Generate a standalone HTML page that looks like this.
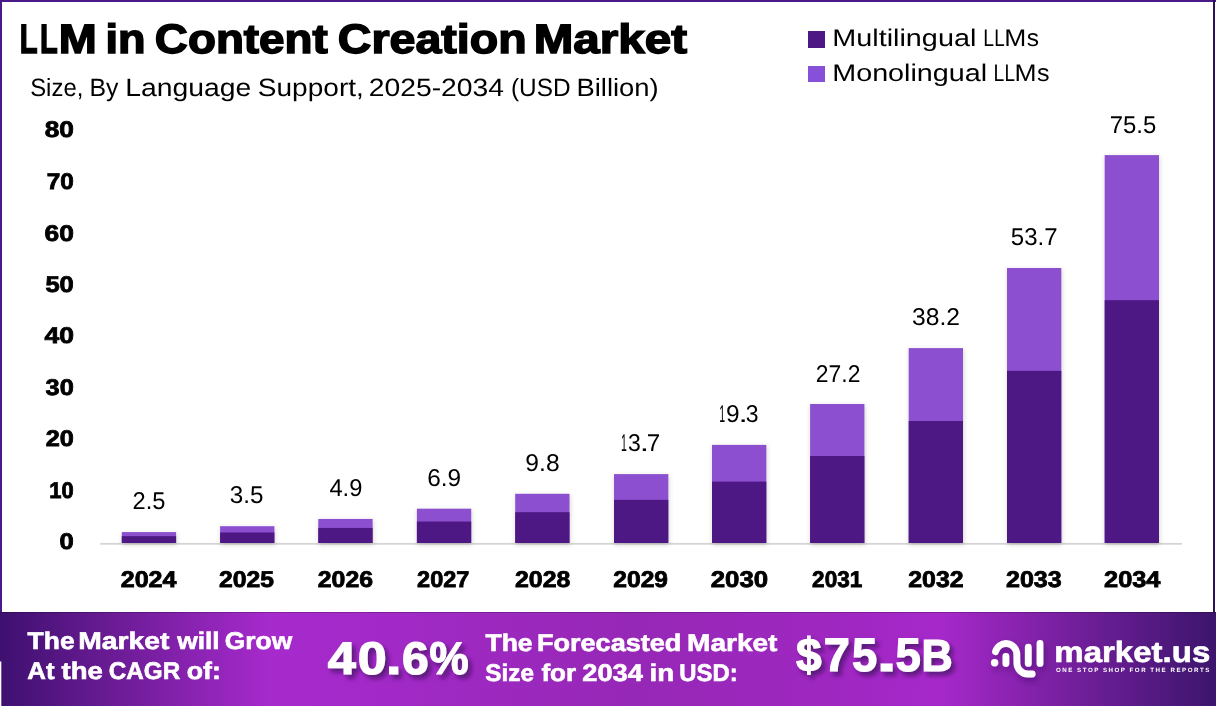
<!DOCTYPE html><html><head><meta charset="utf-8"><title>LLM in Content Creation Market</title>
<style>html,body{margin:0;padding:0;background:#fff}svg{display:block}text{font-family:'Liberation Sans', sans-serif;text-rendering:geometricPrecision}</style></head><body>
<svg width="1216" height="706" viewBox="0 0 1216 706">
<defs>
<linearGradient id="bg" x1="0" y1="0" x2="1216" y2="0" gradientUnits="userSpaceOnUse">
<stop offset="0" stop-color="#3e1070"/><stop offset="0.0625" stop-color="#5c1888"/><stop offset="0.222" stop-color="#a72acc"/><stop offset="0.30" stop-color="#a329c8"/><stop offset="0.52" stop-color="#9628b6"/><stop offset="0.70" stop-color="#a027c2"/><stop offset="0.775" stop-color="#a628c9"/><stop offset="1" stop-color="#3c156c"/>
</linearGradient>
<filter id="ts" x="-10%" y="-20%" width="125%" height="150%"><feDropShadow dx="3.5" dy="4" stdDeviation="2.2" flood-color="#3a0a5c" flood-opacity="0.7"/></filter>
<filter id="bs" x="-30%" y="-10%" width="160%" height="120%"><feDropShadow dx="0.5" dy="1.5" stdDeviation="2" flood-color="#504838" flood-opacity="0.28"/></filter>
<filter id="ls" x="-20%" y="-20%" width="150%" height="160%"><feDropShadow dx="2" dy="4" stdDeviation="3" flood-color="#3a0a5c" flood-opacity="0.45"/></filter>
</defs>
<rect x="0" y="0" width="1216" height="706" fill="#fff"/>
<rect x="0" y="0" width="1216" height="2" fill="#4a1a8a"/>
<rect x="0" y="0" width="2" height="612" fill="#4a1a8a"/>
<rect x="1213" y="0" width="2" height="612" fill="#2c1058"/>
<rect x="100.3" y="542.9" width="1081.7" height="1.8" fill="#d5d5d5"/>
<g filter="url(#bs)">
<rect x="121.80" y="532.06" width="54.3" height="10.94" fill="#8c50d0"/>
<rect x="220.10" y="526.20" width="54.3" height="16.80" fill="#8c50d0"/>
<rect x="318.30" y="518.95" width="54.3" height="24.05" fill="#8c50d0"/>
<rect x="416.90" y="508.70" width="54.3" height="34.30" fill="#8c50d0"/>
<rect x="515.20" y="493.80" width="54.3" height="49.20" fill="#8c50d0"/>
<rect x="614.00" y="474.10" width="54.3" height="68.90" fill="#8c50d0"/>
<rect x="712.00" y="444.90" width="54.3" height="98.10" fill="#8c50d0"/>
<rect x="810.10" y="404.00" width="54.3" height="139.00" fill="#8c50d0"/>
<rect x="908.70" y="348.10" width="54.3" height="194.90" fill="#8c50d0"/>
<rect x="1007.00" y="268.00" width="54.3" height="275.00" fill="#8c50d0"/>
<rect x="1104.70" y="155.10" width="54.3" height="387.90" fill="#8c50d0"/>
</g>
<rect x="121.80" y="536.15" width="54.3" height="6.85" fill="#4e1884"/>
<rect x="220.10" y="532.48" width="54.3" height="10.52" fill="#4e1884"/>
<rect x="318.30" y="527.94" width="54.3" height="15.06" fill="#4e1884"/>
<rect x="416.90" y="521.53" width="54.3" height="21.47" fill="#4e1884"/>
<rect x="515.20" y="512.20" width="54.3" height="30.80" fill="#4e1884"/>
<rect x="614.00" y="499.87" width="54.3" height="43.13" fill="#4e1884"/>
<rect x="712.00" y="481.59" width="54.3" height="61.41" fill="#4e1884"/>
<rect x="810.10" y="455.99" width="54.3" height="87.01" fill="#4e1884"/>
<rect x="908.70" y="420.99" width="54.3" height="122.01" fill="#4e1884"/>
<rect x="1007.00" y="370.85" width="54.3" height="172.15" fill="#4e1884"/>
<rect x="1104.70" y="300.17" width="54.3" height="242.83" fill="#4e1884"/>
<rect x="808" y="31" width="17" height="17" fill="#4e1884"/>
<rect x="808" y="66" width="17" height="16" fill="#8650d8"/>
<rect x="0" y="612" width="1216" height="94" fill="url(#bg)"/>
<rect x="0" y="612" width="1216" height="1" fill="#000" fill-opacity="0.22"/>
<rect x="0" y="661.5" width="1.3" height="45" fill="#fff"/>
<g filter="url(#ls)" fill="none" stroke="#fff" stroke-width="6.8" stroke-linecap="round" stroke-linejoin="round">
<path d="M995.5 651.8 A10.8 10.8 0 0 1 1016.8 654.4 L1016.9 663 A11 11 0 0 0 1027.9 674 L1032.2 674"/>
<path d="M1005.9 656.5 L1005.9 663.5"/>
<path d="M1028.3 647.2 L1028.3 663.4"/>
<path d="M1040 643.4 L1040 663.4"/>
<circle cx="994.6" cy="662.8" r="3.7" fill="#fff" stroke="none"/>
</g>
<text y="53" font-size="41.13" font-weight="bold" stroke="#000" stroke-width="1.5" stroke-linejoin="miter"><tspan x="19.79" textLength="17.85" lengthAdjust="spacingAndGlyphs">L</tspan><tspan x="39.91" textLength="17.74" lengthAdjust="spacingAndGlyphs">L</tspan><tspan x="58.70" textLength="38.00" lengthAdjust="spacingAndGlyphs">M</tspan> <tspan x="105.40" textLength="40.04" lengthAdjust="spacingAndGlyphs">in</tspan> <tspan x="154.87" textLength="172.94" lengthAdjust="spacingAndGlyphs">Content</tspan> <tspan x="337.84" textLength="188.80" lengthAdjust="spacingAndGlyphs">Creation</tspan> <tspan x="533.77" textLength="153.26" lengthAdjust="spacingAndGlyphs">Market</tspan></text>
<text y="96" font-size="25.0"><tspan x="30.16" textLength="53.18" lengthAdjust="spacingAndGlyphs">Size,</tspan> <tspan x="89.56" textLength="28.99" lengthAdjust="spacingAndGlyphs">By</tspan> <tspan x="125.28" textLength="125.98" lengthAdjust="spacingAndGlyphs">Language</tspan> <tspan x="257.83" textLength="105.99" lengthAdjust="spacingAndGlyphs">Support,</tspan> <tspan x="368.68" textLength="135.35" lengthAdjust="spacingAndGlyphs">2025-2034</tspan> <tspan x="510.99" textLength="59.58" lengthAdjust="spacingAndGlyphs">(USD</tspan> <tspan x="576.50" textLength="82.19" lengthAdjust="spacingAndGlyphs">Billion)</tspan></text>
<text y="46" font-size="24.1"><tspan x="832.24" textLength="144.09" lengthAdjust="spacingAndGlyphs">Multilingual</tspan> <tspan x="983.16" textLength="10.78" lengthAdjust="spacingAndGlyphs">L</tspan><tspan x="994.26" textLength="10.47" lengthAdjust="spacingAndGlyphs">L</tspan><tspan x="1004.23" textLength="22.04" lengthAdjust="spacingAndGlyphs">M</tspan><tspan x="1026.72" textLength="12.27" lengthAdjust="spacingAndGlyphs">s</tspan></text>
<text y="81" font-size="24.1"><tspan x="832.24" textLength="154.93" lengthAdjust="spacingAndGlyphs">Monolingual</tspan> <tspan x="993.41" textLength="10.78" lengthAdjust="spacingAndGlyphs">L</tspan><tspan x="1004.51" textLength="10.47" lengthAdjust="spacingAndGlyphs">L</tspan><tspan x="1014.48" textLength="22.04" lengthAdjust="spacingAndGlyphs">M</tspan><tspan x="1036.95" textLength="12.56" lengthAdjust="spacingAndGlyphs">s</tspan></text>
<text y="137" font-size="22.6" font-weight="bold" stroke="#000" stroke-width="0.8" stroke-linejoin="miter"><tspan x="44.67" textLength="29.21" lengthAdjust="spacingAndGlyphs">80</tspan></text>
<text y="189" font-size="22.6" font-weight="bold" stroke="#000" stroke-width="0.8" stroke-linejoin="miter"><tspan x="46.76" textLength="27.04" lengthAdjust="spacingAndGlyphs">70</tspan></text>
<text y="241" font-size="22.6" font-weight="bold" stroke="#000" stroke-width="0.8" stroke-linejoin="miter"><tspan x="44.53" textLength="29.35" lengthAdjust="spacingAndGlyphs">60</tspan></text>
<text y="292" font-size="22.6" font-weight="bold" stroke="#000" stroke-width="0.8" stroke-linejoin="miter"><tspan x="45.41" textLength="28.43" lengthAdjust="spacingAndGlyphs">50</tspan></text>
<text y="343" font-size="22.6" font-weight="bold" stroke="#000" stroke-width="0.8" stroke-linejoin="miter"><tspan x="44.40" textLength="29.49" lengthAdjust="spacingAndGlyphs">40</tspan></text>
<text y="395" font-size="22.6" font-weight="bold" stroke="#000" stroke-width="0.8" stroke-linejoin="miter"><tspan x="45.62" textLength="28.22" lengthAdjust="spacingAndGlyphs">30</tspan></text>
<text y="446" font-size="22.6" font-weight="bold" stroke="#000" stroke-width="0.8" stroke-linejoin="miter"><tspan x="45.72" textLength="28.11" lengthAdjust="spacingAndGlyphs">20</tspan></text>
<text y="498" font-size="22.6" font-weight="bold" stroke="#000" stroke-width="0.8" stroke-linejoin="miter"><tspan x="49.32" textLength="24.38" lengthAdjust="spacingAndGlyphs">10</tspan></text>
<text y="549" font-size="22.6" font-weight="bold" stroke="#000" stroke-width="0.8" stroke-linejoin="miter"><tspan x="59.59" textLength="14.26" lengthAdjust="spacingAndGlyphs">0</tspan></text>
<text y="509" font-size="24.2"><tspan x="132.56" textLength="32.94" lengthAdjust="spacingAndGlyphs">2.5</tspan></text>
<text y="503" font-size="24.2"><tspan x="229.83" textLength="33.69" lengthAdjust="spacingAndGlyphs">3.5</tspan></text>
<text y="496" font-size="24.2"><tspan x="329.46" textLength="32.92" lengthAdjust="spacingAndGlyphs">4.9</tspan></text>
<text y="486" font-size="24.2"><tspan x="427.26" textLength="33.89" lengthAdjust="spacingAndGlyphs">6.9</tspan></text>
<text y="471" font-size="24.2"><tspan x="525.35" textLength="34.23" lengthAdjust="spacingAndGlyphs">9.8</tspan></text>
<text y="451" font-size="24.2"><tspan x="620.90" textLength="5.87" lengthAdjust="spacingAndGlyphs">1</tspan><tspan x="628.02" textLength="12.79" lengthAdjust="spacingAndGlyphs">3</tspan><tspan x="639.85" textLength="9.31" lengthAdjust="spacingAndGlyphs">.</tspan><tspan x="646.66" textLength="13.46" lengthAdjust="spacingAndGlyphs">7</tspan></text>
<text y="422" font-size="24.2"><tspan x="719.20" textLength="5.87" lengthAdjust="spacingAndGlyphs">1</tspan><tspan x="726.05" textLength="13.61" lengthAdjust="spacingAndGlyphs">9</tspan><tspan x="738.55" textLength="9.31" lengthAdjust="spacingAndGlyphs">.</tspan><tspan x="745.72" textLength="12.79" lengthAdjust="spacingAndGlyphs">3</tspan></text>
<text y="382" font-size="24.2"><tspan x="815.85" textLength="44.55" lengthAdjust="spacingAndGlyphs">27.2</tspan></text>
<text y="325" font-size="24.2"><tspan x="912.06" textLength="47.93" lengthAdjust="spacingAndGlyphs">38.2</tspan></text>
<text y="245" font-size="24.2"><tspan x="1010.84" textLength="46.77" lengthAdjust="spacingAndGlyphs">53.7</tspan></text>
<text y="133" font-size="24.2"><tspan x="1109.67" textLength="46.58" lengthAdjust="spacingAndGlyphs">75.5</tspan></text>
<text y="587" font-size="22.8" font-weight="bold" stroke="#000" stroke-width="0.8" stroke-linejoin="miter"><tspan x="120.78" textLength="55.70" lengthAdjust="spacingAndGlyphs">2024</tspan> <tspan x="219.04" textLength="55.00" lengthAdjust="spacingAndGlyphs">2025</tspan> <tspan x="317.79" textLength="55.21" lengthAdjust="spacingAndGlyphs">2026</tspan> <tspan x="417.08" textLength="52.30" lengthAdjust="spacingAndGlyphs">2027</tspan> <tspan x="515.04" textLength="55.33" lengthAdjust="spacingAndGlyphs">2028</tspan> <tspan x="613.30" textLength="54.72" lengthAdjust="spacingAndGlyphs">2029</tspan> <tspan x="710.76" textLength="57.40" lengthAdjust="spacingAndGlyphs">2030</tspan> <tspan x="812.12" textLength="50.11" lengthAdjust="spacingAndGlyphs">2031</tspan> <tspan x="908.29" textLength="55.31" lengthAdjust="spacingAndGlyphs">2032</tspan> <tspan x="1006.03" textLength="55.72" lengthAdjust="spacingAndGlyphs">2033</tspan> <tspan x="1104.02" textLength="56.47" lengthAdjust="spacingAndGlyphs">2034</tspan></text>
<text y="649" font-size="24.1" font-weight="bold" fill="#fff" stroke="#fff" stroke-width="0.6" stroke-linejoin="miter"><tspan x="27.60" textLength="47.00" lengthAdjust="spacingAndGlyphs">The</tspan> <tspan x="78.31" textLength="91.14" lengthAdjust="spacingAndGlyphs">Market</tspan> <tspan x="177.28" textLength="42.39" lengthAdjust="spacingAndGlyphs">will</tspan> <tspan x="224.82" textLength="67.33" lengthAdjust="spacingAndGlyphs">Grow</tspan></text>
<text y="679" font-size="24.1" font-weight="bold" fill="#fff" stroke="#fff" stroke-width="0.6" stroke-linejoin="miter"><tspan x="27.26" textLength="27.26" lengthAdjust="spacingAndGlyphs">At</tspan> <tspan x="61.56" textLength="41.33" lengthAdjust="spacingAndGlyphs">the</tspan> <tspan x="108.81" textLength="71.39" lengthAdjust="spacingAndGlyphs">CAGR</tspan> <tspan x="186.76" textLength="34.00" lengthAdjust="spacingAndGlyphs">of:</tspan></text>
<text y="674" font-size="45.78" font-weight="bold" fill="#fff" filter="url(#ts)" stroke="#fff" stroke-width="1.2" stroke-linejoin="miter"><tspan x="327.74" textLength="28.03" lengthAdjust="spacingAndGlyphs">4</tspan><tspan x="357.75" textLength="28.89" lengthAdjust="spacingAndGlyphs">0</tspan><tspan x="385.95" textLength="15.36" lengthAdjust="spacingAndGlyphs">.</tspan><tspan x="401.94" textLength="26.69" lengthAdjust="spacingAndGlyphs">6</tspan><tspan x="429.50" textLength="39.16" lengthAdjust="spacingAndGlyphs">%</tspan></text>
<text y="651" font-size="24.1" font-weight="bold" fill="#fff" stroke="#fff" stroke-width="0.6" stroke-linejoin="miter"><tspan x="485.50" textLength="47.10" lengthAdjust="spacingAndGlyphs">The</tspan> <tspan x="536.99" textLength="144.39" lengthAdjust="spacingAndGlyphs">Forecasted</tspan> <tspan x="687.02" textLength="90.42" lengthAdjust="spacingAndGlyphs">Market</tspan></text>
<text y="681" font-size="24.1" font-weight="bold" fill="#fff" stroke="#fff" stroke-width="0.6" stroke-linejoin="miter"><tspan x="485.35" textLength="48.68" lengthAdjust="spacingAndGlyphs">Size</tspan> <tspan x="541.46" textLength="34.64" lengthAdjust="spacingAndGlyphs">for</tspan> <tspan x="582.26" textLength="60.59" lengthAdjust="spacingAndGlyphs">2034</tspan> <tspan x="649.46" textLength="24.72" lengthAdjust="spacingAndGlyphs">in</tspan> <tspan x="679.37" textLength="58.38" lengthAdjust="spacingAndGlyphs">USD:</tspan></text>
<text y="671" font-size="46.95" font-weight="bold" fill="#fff" filter="url(#ts)" stroke="#fff" stroke-width="1.2" stroke-linejoin="miter"><tspan x="795.89" textLength="25.56" lengthAdjust="spacingAndGlyphs">$</tspan><tspan x="823.69" textLength="26.08" lengthAdjust="spacingAndGlyphs">7</tspan><tspan x="852.11" textLength="25.15" lengthAdjust="spacingAndGlyphs">5</tspan><tspan x="876.74" textLength="19.88" lengthAdjust="spacingAndGlyphs">.</tspan><tspan x="895.40" textLength="25.26" lengthAdjust="spacingAndGlyphs">5</tspan><tspan x="921.42" font-size="45.06" textLength="31.14" lengthAdjust="spacingAndGlyphs">B</tspan></text>
<text y="662" font-size="29.2" font-weight="bold" fill="#fff" stroke="#fff" stroke-width="0.6" stroke-linejoin="miter"><tspan x="1054.32" textLength="155.93" lengthAdjust="spacingAndGlyphs">market.us</tspan></text>
<text y="672" font-size="6.2" font-weight="bold" fill="#fff"><tspan x="1055.95" textLength="153.38" lengthAdjust="spacing">ONE STOP SHOP FOR THE REPORTS</tspan></text>
</svg></body></html>
